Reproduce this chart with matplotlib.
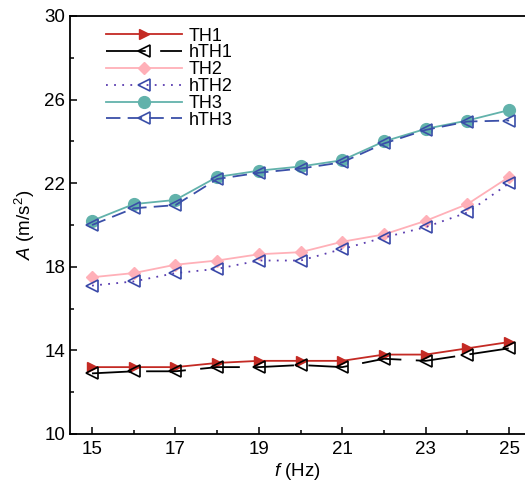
import matplotlib
matplotlib.use("Agg")
import matplotlib.pyplot as plt
from matplotlib.ticker import MultipleLocator

plt.rcParams["font.family"] = ["Liberation Sans", "DejaVu Sans"]
plt.rcParams["mathtext.fontset"] = "custom"
plt.rcParams["mathtext.rm"] = "Liberation Sans"
plt.rcParams["mathtext.it"] = "Liberation Sans:italic"

freq = [15, 16, 17, 18, 19, 20, 21, 22, 23, 24, 25]
th1 = [13.2, 13.2, 13.2, 13.4, 13.5, 13.5, 13.5, 13.8, 13.8, 14.1, 14.4]
hth1 = [12.9, 13.0, 13.0, 13.2, 13.2, 13.3, 13.2, 13.6, 13.5, 13.8, 14.1]
th2 = [17.5, 17.7, 18.1, 18.3, 18.6, 18.7, 19.2, 19.55, 20.2, 21.0, 22.3]
hth2 = [17.1, 17.3, 17.7, 17.9, 18.3, 18.3, 18.85, 19.4, 19.9, 20.6, 22.0]
th3 = [20.2, 21.0, 21.2, 22.3, 22.6, 22.8, 23.1, 24.0, 24.6, 25.0, 25.5]
hth3 = [20.0, 20.8, 20.95, 22.2, 22.5, 22.7, 23.0, 23.9, 24.55, 24.95, 25.0]

x_ticks = [15, 17, 19, 21, 23, 25]
y_ticks = [10, 14, 18, 22, 26, 30]

fig = plt.figure(figsize=(5.25, 4.84), dpi=100)
ax = fig.add_axes([70 / 525, 1 - 434 / 484, 1 - 70 / 525, (434 - 16) / 484])

ax.plot(freq, th1, color="#C42A24", lw=1.3, marker=">", ms=7.5, label="TH1")
ax.plot(freq, hth1, color="black", lw=1.3, marker="<", ms=8, mfc="none",
        mew=1.2, linestyle=(0, (22, 8)), label="hTH1")
ax.plot(freq, th2, color="#FFB0B8", lw=1.3, marker="D", ms=6, label="TH2")
ax.plot(freq, hth2, color="#5A3DB0", lw=1.3, marker="<", ms=8, mfc="none",
        mec="#3A48A8", mew=1.2, linestyle=(0, (1, 3.5)), label="hTH2")
ax.plot(freq, th3, color="#62B2AB", lw=1.3, marker="o", ms=8.5, label="TH3")
ax.plot(freq, hth3, color="#3A4FA8", lw=1.3, marker="<", ms=8, mfc="none",
        mew=1.2, linestyle=(0, (8, 4)), label="hTH3")

ax.set_xlim(14.472, 25.38)
ax.set_ylim(10, 30)
ax.set_xticks(x_ticks)
ax.set_yticks(y_ticks)
ax.xaxis.set_minor_locator(MultipleLocator(1))
ax.yaxis.set_minor_locator(MultipleLocator(2))
ax.tick_params(which="both", direction="in", labelsize=13.5, width=1.1,
               top=False, right=False)
ax.tick_params(which="major", length=5)
ax.tick_params(which="minor", length=3)
ax.tick_params(axis="x", pad=5)
for s in ["left", "bottom", "top"]:
    ax.spines[s].set_linewidth(1.3)
ax.spines["right"].set_visible(False)

ax.set_xlabel(r"$\it{f}$ (Hz)", fontsize=13.5, labelpad=2)
ax.set_ylabel(r"$\it{A}$ (m/s$^2$)", fontsize=13.5, labelpad=5)

ax.legend(loc="upper left", bbox_to_anchor=(0.055, 0.998), frameon=False,
          fontsize=13, handlelength=4.2, handletextpad=0.4,
          labelspacing=-0.01, borderaxespad=0.2)

fig.savefig("out.png", dpi=100)
